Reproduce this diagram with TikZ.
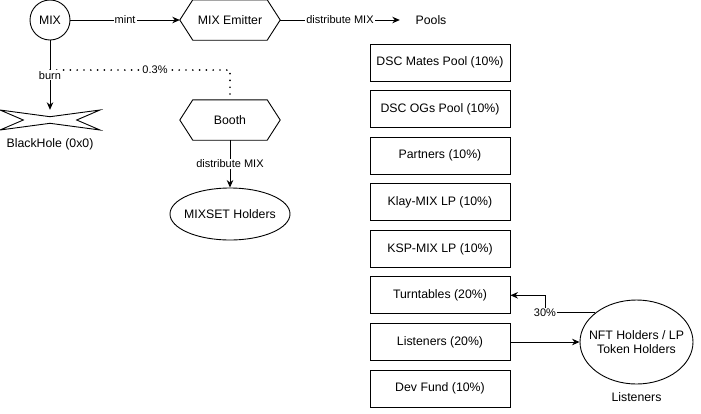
\documentclass[tikz,border=0pt]{standalone}
\usepackage{fontspec}
\setmainfont{Liberation Sans}
\usetikzlibrary{arrows.meta,calc,shapes.geometric}
\newcommand\drawhex[1]{\draw[shapeline] (#1.west) -- ($(#1.north west)+(13,0)$) -- ($(#1.north east)+(-13,0)$) -- (#1.east) -- ($(#1.south east)+(-13,0)$) -- ($(#1.south west)+(13,0)$) -- cycle;}
\begin{document}
\begin{tikzpicture}[x=1pt,y=-1pt,
  shapeline/.style={line width=0.9pt},
  txt/.style={font=\fontsize{12.3}{14}\selectfont, align=center, inner sep=0pt},
  poolbox/.style={txt, draw, line width=0.9pt, minimum width=140pt, minimum height=37pt},
  hexnode/.style={txt, minimum width=100pt, minimum height=40pt},
  ellnode/.style={draw, ellipse, line width=0.9pt, inner sep=0pt},
  conn/.style={line width=0.9pt, -{Stealth[length=7.5pt,width=6.5pt]}},
  lbl/.style={font=\fontsize{11}{13}\selectfont, fill=white, inner sep=1pt},
  dotline/.style={line width=1.9pt, dash pattern=on 0pt off 6.8pt, line cap=round}
]
\useasboundingbox (0,0) rectangle (701,413);

% nodes
\node[txt, draw, circle, line width=0.9pt, minimum size=40pt] (mix) at (50,20) {MIX};
\node[hexnode] (emit) at (230,20) {MIX Emitter};
\drawhex{emit}
\node[txt, minimum width=62pt] (pools) at (431,20) {Pools};

\node[txt, minimum width=100pt, minimum height=20pt] (bh) at (50,120) {};
\draw[shapeline] (-50+50,-10+120) -- (0+50,-3.3+120) -- (50+50,-10+120) -- (26.7+50,0+120) -- (50+50,10+120) -- (0+50,3.3+120) -- (-50+50,10+120) -- (-26.7+50,0+120) -- cycle;
\node[txt] (bhlabel) at (50,144) {BlackHole (0x0)};

\node[hexnode] (booth) at (230,120) {Booth};
\drawhex{booth}
\node[ellnode, minimum width=120pt, minimum height=52pt] (mset) at (230,214) {};
\node[txt] (msettext) at (mset.center) {MIXSET Holders};

\node[poolbox] (p1) at (440,62.5) {DSC Mates Pool (10\%)};
\node[poolbox] (p2) at (440,109) {DSC OGs Pool (10\%)};
\node[poolbox] (p3) at (440,155.7) {Partners (10\%)};
\node[poolbox] (p4) at (440,202.3) {Klay-MIX LP (10\%)};
\node[poolbox] (p5) at (440,249) {KSP-MIX LP (10\%)};
\node[poolbox] (turn) at (440,295.3) {Turntables (20\%)};
\node[poolbox] (lis) at (440,342) {Listeners (20\%)};
\node[poolbox] (dev) at (440,388.5) {Dev Fund (10\%)};

\node[ellnode, minimum width=113pt, minimum height=84pt] (nft) at (636.5,342) {};
\node[txt] (nfttext) at (nft.center) {NFT Holders / LP\\Token Holders};
\node[txt] (nftlabel) at (636.5,397) {Listeners};

% connectors
\coordinate (dstart) at (50,70);
\coordinate (dcorner) at (230,70);
\draw[dotline] (dstart) -- (dcorner) -- (booth.north);
\node[lbl] at (155,70) {0.3\%};

\draw[conn] (mix.east) -- node[lbl]{mint} (emit.west);
\draw[conn] (emit.east) -- node[lbl]{distribute MIX} (pools.west);
\draw[conn] (mix.south) -- node[lbl]{burn} (bh.north);
\draw[conn] (booth.south) -- node[lbl]{distribute MIX} (mset.north);
\draw[conn] (lis.east) -- (nft.west);
\coordinate (k30) at (545,313);
\draw[conn] (nft.145) -- (nft.145 -| k30) node[lbl]{30\%} |- (turn.east);
\end{tikzpicture}
\end{document}
